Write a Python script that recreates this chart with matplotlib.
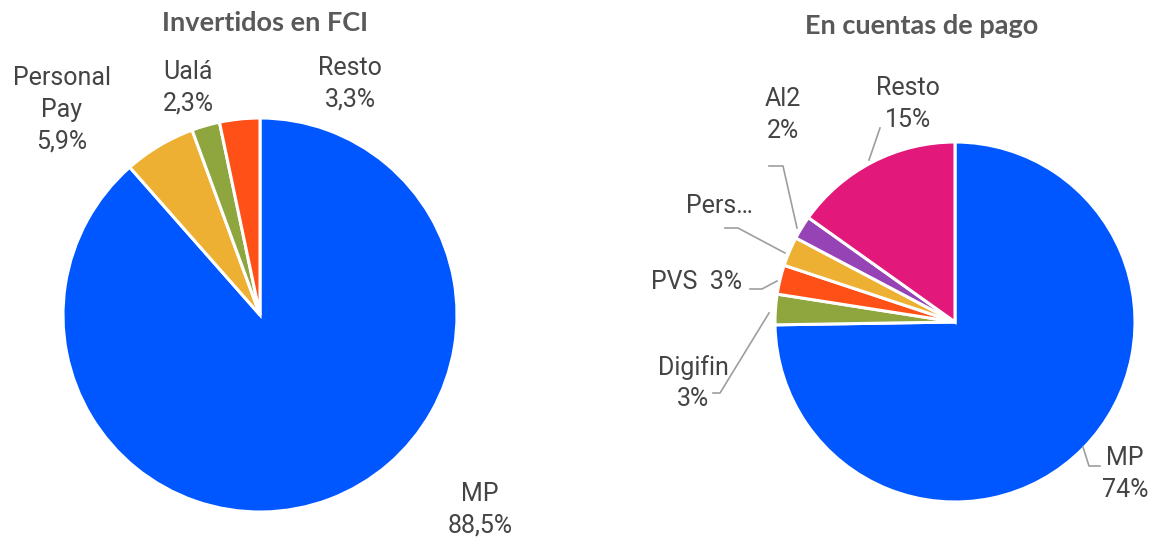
import matplotlib
matplotlib.use('Agg')
import matplotlib.pyplot as plt

# left pie: invested in FCI
fci_labels = ['MP', 'Personal\nPay', 'Ualá', 'Resto']
fci_values = [88.5, 5.9, 2.3, 3.3]
fci_text = ['88,5%', '5,9%', '2,3%', '3,3%']
fci_colors = ['#0057FF', '#EDB033', '#8FA53E', '#FF5018']

# right pie: payment accounts
pay_labels = ['MP', 'Digifin', 'PVS', 'Pers…', 'Al2', 'Resto']
pay_values = [74, 2.7, 2.6, 2.6, 2.1, 15]
pay_text = ['74%', '3%', '3%', '', '2%', '15%']
pay_colors = ['#0057FF', '#8FA53E', '#FF5018', '#EDB033', '#9543B5', '#E2187A']

W, H = 1158, 544
fig = plt.figure(figsize=(W / 100, H / 100), dpi=100)
ax = fig.add_axes([0, 0, 1, 1])


def Y(y):
    # pixel row (from top) to axis coords
    return H - y


wp = dict(edgecolor='white', linewidth=2.2)
ax.pie(fci_values, colors=fci_colors, startangle=90, counterclock=False,
       center=(260, Y(315)), radius=197, wedgeprops=wp)
ax.pie(pay_values, colors=pay_colors, startangle=90, counterclock=False,
       center=(955, Y(322)), radius=180, wedgeprops=wp)

ax.set_xlim(0, W)
ax.set_ylim(0, H)
ax.set_aspect('equal')
ax.axis('off')

tfont = dict(family='Lato', weight='bold', size=19.5, color='#595959')
ax.text(265, Y(23), 'Invertidos en FCI', ha='center', va='center', **tfont)
ax.text(922, Y(26), 'En cuentas de pago', ha='center', va='center', **tfont)

lfont = dict(family='Roboto', size=18, color='#444444', ha='center',
             va='center', linespacing=1.4)

# left labels
fci_pos = [(480, 510), (62, 110), (188, 88), (350, 84)]
for lab, txt, (x, y) in zip(fci_labels, fci_text, fci_pos):
    ax.text(x, Y(y), lab + '\n' + txt, **lfont)

# right labels
pay_pos = [(1125, 474), (693, 383), (697, 282), (719, 206), (783, 115), (908, 104)]
for lab, txt, (x, y) in zip(pay_labels, pay_text, pay_pos):
    if lab == 'PVS':
        s = lab + '  ' + txt
    elif txt:
        s = lab + '\n' + txt
    else:
        s = lab
    ax.text(x, Y(y), s, **lfont)

# leader lines
leaders = [
    [(1083, 447), (1089, 466), (1100, 466)],
    [(769, 313), (720, 393), (713, 393)],
    [(777, 281), (762, 289), (750, 289)],
    [(785, 253), (738, 228), (725, 228)],
    [(797, 228), (783, 166), (769, 166)],
    [(869, 160), (880, 128)],
]
for pts in leaders:
    xs = [p[0] for p in pts]
    ys = [Y(p[1]) for p in pts]
    ax.plot(xs, ys, color='#9E9E9E', lw=1.2)

fig.savefig('out.png', dpi=100)
